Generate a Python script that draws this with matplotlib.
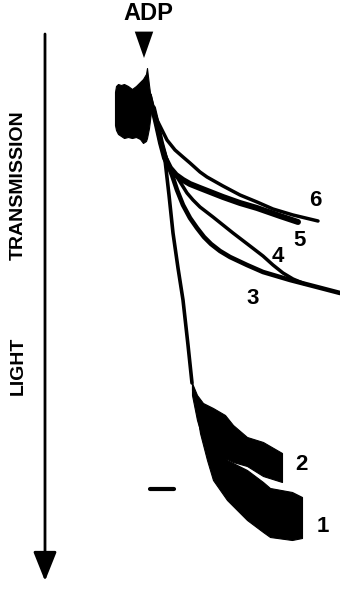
import matplotlib
matplotlib.use("Agg")
import matplotlib.pyplot as plt

# ---- data read from the recording (x: chart time units, y: light transmission units, downward = more transmission)
base_x   = [115, 116, 118, 121, 124, 128, 132, 136, 140, 143, 146, 147, 149, 151]
base_top = [92, 86, 84, 85, 84, 86, 89, 86, 82, 79, 74, 68, 85, 100]
base_bot = [125, 130, 134, 136, 138, 137, 138, 137, 139, 143, 141, 138, 128, 112]

steep_x = [150, 155, 160, 165, 169, 173, 178, 183, 188, 192]
steep_y = [95, 115, 140, 160, 195, 233, 268, 300, 345, 383]

t6_x = [150, 153, 157, 162, 167, 175, 183, 190, 200, 207, 223, 240, 257, 273, 293, 318]
t6_y = [95, 108, 120, 130, 140, 150, 157, 163, 172, 177, 186, 195, 202, 209, 215, 221]
t5_x = [153, 157, 161, 165, 170, 176, 183, 190, 200, 223, 240, 257, 280, 298]
t5_y = [108, 125, 143, 158, 168, 175, 180, 184, 188, 197, 203, 208, 216, 222]
t4_x = [153, 157, 161, 165, 168, 172, 177, 182, 187, 193, 200, 213, 233, 250, 263, 273, 283, 293, 305]
t4_y = [108, 125, 143, 155, 163, 170, 177, 185, 193, 200, 207, 217, 233, 246, 256, 265, 273, 279, 284]
t3_x = [153, 157, 161, 165, 168, 172, 177, 183, 190, 197, 204, 211, 220, 230, 247, 263, 290, 317, 340]
t3_y = [108, 125, 143, 156, 165, 175, 190, 205, 218, 228, 237, 244, 251, 257, 265, 272, 280, 287, 293]

t2_x   = [192, 197, 203, 213, 225, 233, 247, 263, 282]
t2_top = [383, 395, 403, 408, 415, 425, 437, 442, 453]
t2_bot = [395, 420, 440, 452, 458, 462, 466, 476, 482]
t1_x   = [192, 195, 200, 207, 213, 227, 247, 263, 270, 292, 302]
t1_top = [383, 395, 410, 420, 440, 460, 470, 482, 488, 492, 497]
t1_bot = [390, 400, 433, 460, 480, 500, 520, 532, 537, 540, 538]

trace_labels = ["1", "2", "3", "4", "5", "6"]
label_x = [323, 301, 253, 278, 300, 315]
label_y = [527, 465, 298, 257, 240, 200]

bar_x = [150, 174]
bar_y = [489, 489]

fig = plt.figure(figsize=(3.4, 5.9), dpi=100)
ax = fig.add_axes([0, 0, 1, 1])
ax.set_xlim(0, 340)
ax.set_ylim(590, 0)
ax.axis("off")

k = "black"
font = ["Liberation Sans", "DejaVu Sans"]
ls = dict(color=k, solid_capstyle="round", solid_joinstyle="round")

# baseline before ADP
ax.fill_between(base_x, base_top, base_bot, color=k, lw=0.8)

# traces
ax.plot(steep_x, steep_y, lw=2.6, **ls)
ax.plot(t6_x, t6_y, lw=2.5, **ls)
ax.plot(t5_x, t5_y, lw=4.3, **ls)
ax.plot(t4_x, t4_y, lw=2.5, **ls)
ax.plot(t3_x, t3_y, lw=3.3, **ls)
ax.fill_between(t2_x, t2_top, t2_bot, color=k, lw=0.8)
ax.fill_between(t1_x, t1_top, t1_bot, color=k, lw=0.8)

# time bar
ax.plot(bar_x, bar_y, color=k, lw=3.0, solid_capstyle="round")

# labels
for s, x, y in zip(trace_labels, label_x, label_y):
    ax.text(x, y, s, fontsize=16, fontweight="bold", family=font, ha="center", va="center")

# ADP marker
ax.text(148, 14, "ADP", fontsize=17, fontweight="bold", family=font, ha="center", va="center")
ax.annotate("", xy=(144, 58), xytext=(144, 32),
            arrowprops=dict(arrowstyle="-|>,head_length=1.0,head_width=0.35",
                            mutation_scale=19, lw=0, color=k, shrinkA=0, shrinkB=0))

# left axis arrow and label
ax.annotate("", xy=(45, 581), xytext=(45, 34),
            arrowprops=dict(arrowstyle="-|>,head_length=1.0,head_width=0.4",
                            mutation_scale=18, lw=2.0, color=k, shrinkA=0, shrinkB=0))
ax.text(18, 185, "TRANSMISSION", rotation=90, fontsize=14, fontweight="bold",
        family=font, ha="center", va="center")
ax.text(18, 366, "LIGHT", rotation=90, fontsize=14, fontweight="bold",
        family=font, ha="center", va="center")

fig.savefig("out.png", dpi=100)
